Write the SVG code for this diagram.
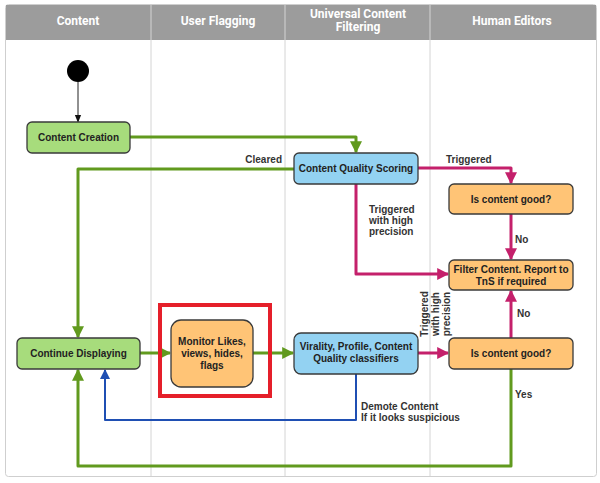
<svg xmlns="http://www.w3.org/2000/svg" width="600" height="483" viewBox="0 0 600 483">
<defs>
<style>
.lane{fill:none;stroke:#d4d4d4;stroke-width:1}
.hdr{font-family:Roboto,"Liberation Sans",sans-serif;font-weight:bold;font-size:12px;fill:#fff;text-anchor:middle}
.node{stroke:#3a3a3a;stroke-width:1.3}
.nt{font-family:"Liberation Sans",Arial,sans-serif;font-weight:bold;font-size:10px;fill:#222;text-anchor:middle}
.lbl{font-family:"Liberation Sans",Arial,sans-serif;font-weight:bold;font-size:10px;fill:#333}
.g{fill:#a7dc7c}.b{fill:#93d2f2}.o{fill:#ffc476}
.cg{fill:none;stroke:#619a1e;stroke-width:3;stroke-linejoin:round}
.cm{fill:none;stroke:#c4206b;stroke-width:3;stroke-linejoin:round}
.cb{fill:none;stroke:#1f4fb3;stroke-width:2;stroke-linejoin:round}
</style>
<marker id="ag" viewBox="0 0 10 10" refX="9" refY="5" markerWidth="4" markerHeight="4" orient="auto"><path d="M0,0L10,5L0,10z" fill="#619a1e"/></marker>
<marker id="am" viewBox="0 0 10 10" refX="9" refY="5" markerWidth="4" markerHeight="4" orient="auto"><path d="M0,0L10,5L0,10z" fill="#c4206b"/></marker>
<marker id="ab" viewBox="0 0 10 10" refX="9" refY="5" markerWidth="5" markerHeight="5" orient="auto"><path d="M0,0L10,5L0,10z" fill="#1f4fb3"/></marker>
<marker id="ak" viewBox="0 0 10 10" refX="9" refY="5" markerWidth="8" markerHeight="8" orient="auto"><path d="M0,1L10,5L0,9z" fill="#111"/></marker>
</defs>
<rect x="0" y="0" width="600" height="483" fill="#fff"/>
<g id="frame">
<rect x="5.5" y="4.5" width="591" height="472" rx="3" fill="#fff" stroke="#cfcfcf"/>
<rect x="6" y="5" width="590" height="35" fill="#9c9c9c"/>
<line class="lane" x1="151" y1="5" x2="151" y2="476"/>
<line class="lane" x1="285" y1="5" x2="285" y2="476"/>
<line class="lane" x1="430" y1="5" x2="430" y2="476"/>
<text class="hdr" x="78" y="25">Content</text>
<text class="hdr" x="218" y="25">User Flagging</text>
<text class="hdr" x="358" y="18">Universal Content</text>
<text class="hdr" x="358" y="31">Filtering</text>
<text class="hdr" x="512" y="25">Human Editors</text>
</g>
<g id="connectors">
<line x1="78" y1="82" x2="78" y2="122" stroke="#222" stroke-width="1" marker-end="url(#ak)"/>
<path class="cg" d="M130,137H356V152" marker-end="url(#ag)"/>
<path class="cg" d="M294,169H78V337" marker-end="url(#ag)"/>
<path class="cm" d="M418,168H511V183" marker-end="url(#am)"/>
<path class="cm" d="M356,184V274H448" marker-end="url(#am)"/>
<path class="cm" d="M511,214V259" marker-end="url(#am)"/>
<path class="cg" d="M140,353H170" marker-end="url(#ag)"/>
<path class="cg" d="M253,353H293" marker-end="url(#ag)"/>
<path class="cm" d="M418,353H448" marker-end="url(#am)"/>
<path class="cm" d="M511,338V291" marker-end="url(#am)"/>
<path class="cg" d="M511,369V466H78V370" marker-end="url(#ag)"/>
<path class="cb" d="M356,374V420H105V370" marker-end="url(#ab)"/>
<text class="lbl" x="282" y="163" text-anchor="end">Cleared</text>
<text class="lbl" x="446" y="163">Triggered</text>
<text class="lbl" x="369" y="213">Triggered</text>
<text class="lbl" x="369" y="224">with high</text>
<text class="lbl" x="369" y="235">precision</text>
<text class="lbl" x="515" y="243">No</text>
<text class="lbl" x="517" y="317">No</text>
<text class="lbl" x="515" y="398">Yes</text>
<text class="lbl" x="361" y="410" font-weight="normal">Demote Content</text>
<text class="lbl" x="361" y="421" font-weight="normal">If it looks suspicious</text>
<g transform="translate(428,314) rotate(-90)">
<text class="lbl" x="0" y="0" text-anchor="middle">Triggered</text>
<text class="lbl" x="0" y="11" text-anchor="middle">with high</text>
<text class="lbl" x="0" y="22" text-anchor="middle">precision</text>
</g>
</g>
<g id="start"><circle cx="78" cy="71" r="11" fill="#000"/></g>
<g id="content-creation"><rect class="node g" x="27" y="122" width="103" height="31" rx="5"/><text class="nt" x="78.5" y="141">Content Creation</text></g>
<g id="content-quality-scoring"><rect class="node b" x="294" y="153" width="124" height="31" rx="5"/><text class="nt" x="356" y="172">Content Quality Scoring</text></g>
<g id="is-good-top"><rect class="node o" x="449" y="184" width="124" height="30" rx="5"/><text class="nt" x="511" y="203">Is content good?</text></g>
<g id="filter-content"><rect class="node o" x="449" y="260" width="124" height="30" rx="5"/><text class="nt" x="511" y="273">Filter Content. Report to</text><text class="nt" x="511" y="285">TnS if required</text></g>
<g id="continue-displaying"><rect class="node g" x="17" y="338" width="123" height="31" rx="5"/><text class="nt" x="78.5" y="357">Continue Displaying</text></g>
<g id="monitor"><rect x="160" y="305" width="110" height="91" fill="none" stroke="#e51f2a" stroke-width="4"/><rect class="node o" x="171" y="320" width="82" height="67" rx="10"/><text class="nt" x="212" y="345">Monitor Likes,</text><text class="nt" x="212" y="357">views, hides,</text><text class="nt" x="212" y="369">flags</text></g>
<g id="virality"><rect class="node b" x="294" y="333" width="124" height="41" rx="7"/><text class="nt" x="356" y="350">Virality, Profile, Content</text><text class="nt" x="356" y="362">Quality classifiers</text></g>
<g id="is-good-bottom"><rect class="node o" x="449" y="338" width="124" height="31" rx="5"/><text class="nt" x="511" y="357">Is content good?</text></g>
</svg>
